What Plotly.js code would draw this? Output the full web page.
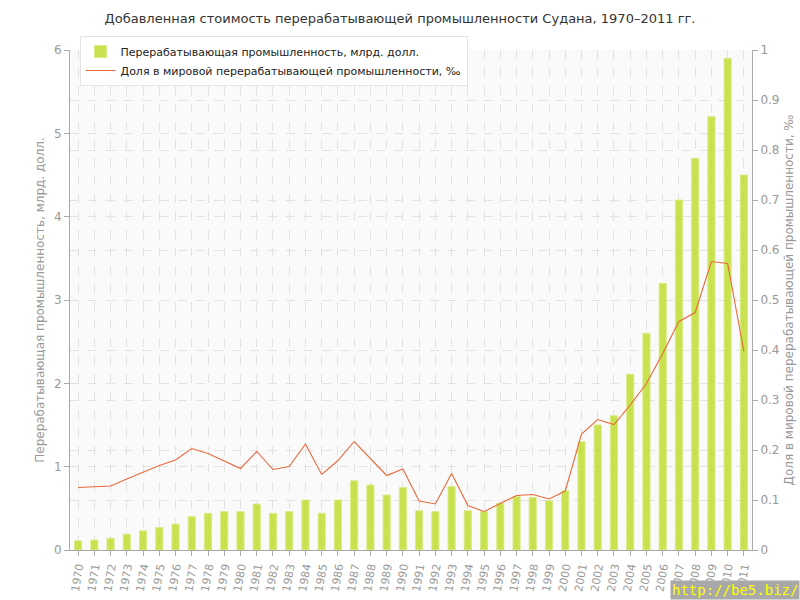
<!DOCTYPE html>
<html>
<head>
<meta charset="utf-8">
<script src="https://cdn.plot.ly/plotly-3.0.1.min.js"></script>
<style>html,body{margin:0;padding:0;background:#fff}#chart{width:800px;height:600px}</style>
</head>
<body>
<div id="chart"></div>
<script>
var years = ["1970","1971","1972","1973","1974","1975","1976","1977","1978","1979","1980","1981","1982","1983","1984","1985","1986","1987","1988","1989","1990","1991","1992","1993","1994","1995","1996","1997","1998","1999","2000","2001","2002","2003","2004","2005","2006","2007","2008","2009","2010","2011"];
var valueAdded = [0.11,0.12,0.14,0.19,0.23,0.27,0.31,0.40,0.44,0.46,0.46,0.55,0.44,0.46,0.60,0.44,0.60,0.83,0.78,0.66,0.75,0.47,0.46,0.76,0.47,0.46,0.56,0.64,0.63,0.59,0.71,1.30,1.50,1.61,2.11,2.60,3.20,4.20,4.70,5.20,5.90,4.50];
var worldShare = [0.125,0.126,0.128,0.142,0.156,0.169,0.180,0.203,0.193,0.178,0.163,0.197,0.161,0.167,0.212,0.151,0.179,0.217,0.184,0.149,0.162,0.098,0.092,0.153,0.089,0.077,0.093,0.109,0.111,0.102,0.118,0.232,0.261,0.251,0.290,0.333,0.393,0.457,0.475,0.577,0.573,0.397];
var seriesNames = ["Перерабатывающая промышленность, млрд. долл.","Доля в мировой перерабатывающей промышленности, ‰"];
var titleText = "Добавленная стоимость перерабатывающей промышленности Судана, 1970–2011 гг.";
var leftTitle = "Перерабатывающая промышленность, млрд. долл.";
var rightTitle = "Доля в мировой перерабатывающей промышленности, ‰";

var font = "DejaVu Sans, Verdana, sans-serif";
var traces = [
  {type:"bar", x:years, y:valueAdded, name:seriesNames[0],
   marker:{color:"rgba(190,222,48,0.85)", line:{color:"rgba(215,235,130,0.9)", width:1}},
   hoverinfo:"x+y"},
  {type:"scatter", mode:"lines", x:years, y:worldShare, yaxis:"y2", name:seriesNames[1],
   line:{color:"#e86a3c", width:1.1}}
];
var axisCommon = {linecolor:"#aaaaaa", linewidth:1, showline:true, ticks:"outside", ticklen:5, tickcolor:"#aaaaaa",
  tickfont:{family:font, size:12, color:"#999999"}, gridcolor:"#e2e2e2", griddash:"dash", zeroline:false};
var layout = {
  width:800, height:600,
  margin:{l:70, r:48, t:50, b:50},
  paper_bgcolor:"#ffffff", plot_bgcolor:"#fafafa",
  font:{family:font, color:"#555"},
  title:{text:titleText, x:0.5, xanchor:"center", y:0.97, yanchor:"middle", font:{family:font, size:13, color:"#333333"}},
  bargap:0.56,
  showlegend:true,
  legend:{x:0.014, y:1.028, xanchor:"left", yanchor:"top", bgcolor:"#ffffff", bordercolor:"#e4e4e4", borderwidth:1,
    font:{family:font, size:11, color:"#222222"}, tracegroupgap:0, itemwidth:30},
  xaxis:Object.assign({}, axisCommon, {type:"category", range:[-0.5,41.5], tickangle:-80, showgrid:true,
    tickfont:{family:font, size:11, color:"#999999"}}),
  yaxis:Object.assign({}, axisCommon, {range:[0,6], dtick:1, showgrid:true,
    title:{text:leftTitle, standoff:6, font:{family:font, size:12, color:"#999999"}}}),
  yaxis2:Object.assign({}, axisCommon, {range:[0,1], dtick:0.1, overlaying:"y", side:"right", showgrid:true,
    title:{text:rightTitle, standoff:6, font:{family:font, size:12, color:"#999999"}}}),
  annotations:[{text:"http://be5.biz/", xref:"paper", yref:"paper", x:1.0704, y:-0.1, xanchor:"right", yanchor:"bottom",
    showarrow:false, bgcolor:"#a8a8a8", font:{family:"DejaVu Sans Mono, monospace", size:14, color:"#ffff00"}, borderpad:1}]
};
Plotly.newPlot("chart", traces, layout, {displayModeBar:false, staticPlot:true});
</script>
</body>
</html>
